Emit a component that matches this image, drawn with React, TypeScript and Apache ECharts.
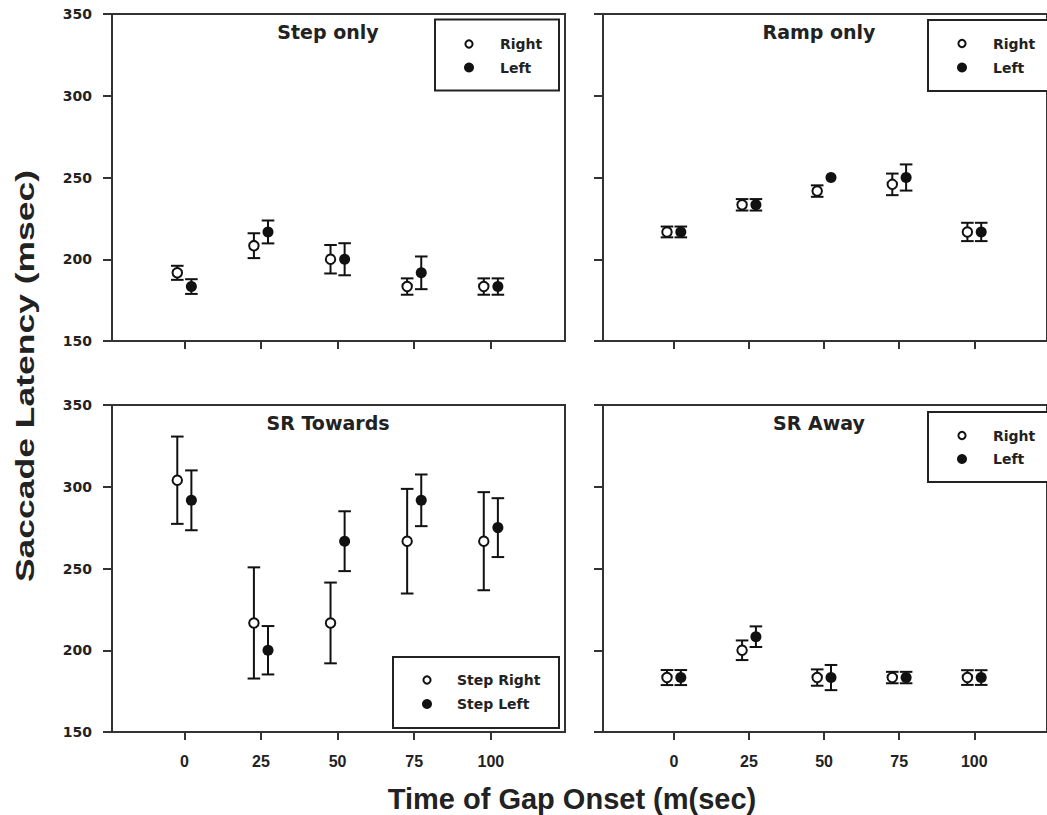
import React, { useEffect, useRef } from "react";
import * as echarts from "echarts";

// ---- data ----
const gapOnsets = [0, 25, 50, 75, 100];
const dodge = 2.3; // horizontal offset of Right (-) and Left (+) markers, in ms

const stepOnlyRight = [191.7, 208.3, 200, 183.3, 183.3];
const stepOnlyRightErr = [4.3, 7.6, 8.7, 5, 5];
const stepOnlyLeft = [183.3, 216.7, 200, 191.7, 183.3];
const stepOnlyLeftErr = [4.5, 7, 9.8, 10, 5];

const rampOnlyRight = [216.7, 233.3, 241.7, 245.8, 216.7];
const rampOnlyRightErr = [3.3, 3.5, 3.5, 6.6, 5.6];
const rampOnlyLeft = [216.7, 233.3, 250, 250, 216.7];
const rampOnlyLeftErr = [3.3, 3.5, 0, 8, 5.6];

const srTowardsRight = [304, 216.7, 216.7, 266.7, 266.7];
const srTowardsRightErr = [26.7, 34, 24.7, 32, 30];
const srTowardsLeft = [291.7, 200, 266.7, 291.7, 275];
const srTowardsLeftErr = [18.3, 14.8, 18.3, 15.8, 18];

const srAwayRight = [183.3, 200, 183.3, 183.3, 183.3];
const srAwayRightErr = [4.6, 6, 5, 3.5, 4.5];
const srAwayLeft = [183.3, 208.3, 183.3, 183.3, 183.3];
const srAwayLeftErr = [4.6, 6.3, 7.7, 3.5, 4.5];

const yTicks = [150, 200, 250, 300, 350];
const panelTitles = ["Step only", "Ramp only", "SR Towards", "SR Away"];
const legendNames = [
  ["Right", "Left"],
  ["Right", "Left"],
  ["Step Right", "Step Left"],
  ["Right", "Left"],
];
const yTitle = "Saccade Latency (msec)";
const xTitle = "Time of Gap Onset (m(sec)";

const panelData = [
  [stepOnlyRight, stepOnlyRightErr, stepOnlyLeft, stepOnlyLeftErr],
  [rampOnlyRight, rampOnlyRightErr, rampOnlyLeft, rampOnlyLeftErr],
  [srTowardsRight, srTowardsRightErr, srTowardsLeft, srTowardsLeftErr],
  [srAwayRight, srAwayRightErr, srAwayLeft, srAwayLeftErr],
];

// ---- layout ----
const gridBoxes = [
  { left: 112, top: 14 },
  { left: 603, top: 14 },
  { left: 112, top: 405 },
  { left: 603, top: 405 },
];
const GW = 453;
const GH = 327;
const legendBoxes = [
  { x: 435, y: 19.5, w: 124, h: 71, mx: 469, tx: 500, r1: 44, r2: 67.5 },
  { x: 928, y: 20, w: 124, h: 71, mx: 962, tx: 993, r1: 43.5, r2: 67.5 },
  { x: 393, y: 657, w: 166, h: 71, mx: 427, tx: 457, r1: 680, r2: 704 },
  { x: 928, y: 412, w: 124, h: 70, mx: 962, tx: 993, r1: 435.5, r2: 459 },
];
const titlePos = [
  { x: 328, y: 32 },
  { x: 819, y: 32 },
  { x: 328, y: 423 },
  { x: 819, y: 423 },
];

const INK = "#111";
const AXIS = "#333";
const TXT = "#222";

function errorBarRender(params: any, api: any) {
  const x = api.value(0);
  const y = api.value(1);
  const e = api.value(2);
  if (!e) return { type: "group", children: [] };
  const top = api.coord([x, y + e]);
  const bot = api.coord([x, y - e]);
  const w = 6.3;
  const style = { stroke: INK, lineWidth: 2 };
  return {
    type: "group",
    children: [
      { type: "line", shape: { x1: top[0], y1: top[1], x2: bot[0], y2: bot[1] }, style },
      { type: "line", shape: { x1: top[0] - w, y1: top[1], x2: top[0] + w, y2: top[1] }, style },
      { type: "line", shape: { x1: bot[0] - w, y1: bot[1], x2: bot[0] + w, y2: bot[1] }, style },
    ],
  };
}

export default function App() {
  const ref = useRef<HTMLDivElement>(null);
  useEffect(() => {
    if (!ref.current) return;
    const chart = echarts.init(ref.current, null, { renderer: "svg" });

    const grids = gridBoxes.map((g) => ({
      left: g.left,
      top: g.top,
      width: GW,
      height: GH,
      show: true,
      borderColor: AXIS,
      borderWidth: 2,
      backgroundColor: "transparent",
    }));

    const xAxes = gridBoxes.map((_, i) => ({
      gridIndex: i,
      type: "value",
      min: -23.6,
      max: 124.2,
      splitLine: { show: false },
      axisLine: { show: true, onZero: false, lineStyle: { color: AXIS, width: 2 } },
      axisTick: { show: true, customValues: gapOnsets, length: 8, lineStyle: { color: AXIS, width: 2 } },
      axisLabel: {
        show: i >= 2,
        customValues: gapOnsets,
        margin: 21,
        fontFamily: "Liberation Sans",
        fontWeight: "bold",
        fontSize: 16,
        color: TXT,
      },
    }));

    const yAxes = gridBoxes.map((_, i) => ({
      gridIndex: i,
      type: "value",
      min: yTicks[0],
      max: yTicks[yTicks.length - 1],
      interval: 50,
      splitLine: { show: false },
      axisLine: { show: true, onZero: false, lineStyle: { color: AXIS, width: 2 } },
      axisTick: { show: true, length: 9, lineStyle: { color: AXIS, width: 2 } },
      axisLabel: {
        show: i % 2 === 0,
        margin: 20,
        fontFamily: "DejaVu Sans",
        fontWeight: "bold",
        fontSize: 14,
        color: TXT,
      },
    }));

    const series: any[] = [];
    panelData.forEach(([rv, re, lv, le], i) => {
      const rData = gapOnsets.map((t, k) => [t - dodge, rv[k], re[k]]);
      const lData = gapOnsets.map((t, k) => [t + dodge, lv[k], le[k]]);
      series.push({
        type: "custom",
        xAxisIndex: i,
        yAxisIndex: i,
        renderItem: errorBarRender,
        data: rData,
        z: 2,
        silent: true,
      });
      series.push({
        type: "custom",
        xAxisIndex: i,
        yAxisIndex: i,
        renderItem: errorBarRender,
        data: lData,
        z: 2,
        silent: true,
      });
      series.push({
        type: "scatter",
        xAxisIndex: i,
        yAxisIndex: i,
        data: rData.map((d) => [d[0], d[1]]),
        symbol: "circle",
        symbolSize: 9.5,
        itemStyle: { color: "#fff", borderColor: INK, borderWidth: 2, opacity: 1 },
        z: 3,
        silent: true,
      });
      series.push({
        type: "scatter",
        xAxisIndex: i,
        yAxisIndex: i,
        data: lData.map((d) => [d[0], d[1]]),
        symbol: "circle",
        symbolSize: 11,
        itemStyle: { color: INK, opacity: 1 },
        z: 4,
        silent: true,
      });
    });

    const graphic: any[] = [];
    panelTitles.forEach((t, i) => {
      graphic.push({
        type: "text",
        x: titlePos[i].x,
        y: titlePos[i].y,
        z: 10,
        style: {
          text: t,
          fontSize: 19,
          fontFamily: "DejaVu Sans",
          fontWeight: "bold",
          fill: TXT,
          align: "center",
          verticalAlign: "middle",
        },
      });
    });
    legendBoxes.forEach((b, i) => {
      graphic.push({
        type: "rect",
        z: 10,
        shape: { x: b.x, y: b.y, width: b.w, height: b.h },
        style: { fill: "#fff", stroke: "#222", lineWidth: 2 },
      });
      graphic.push({
        type: "circle",
        z: 11,
        shape: { cx: b.mx, cy: b.r1, r: 3.6 },
        style: { fill: "#fff", stroke: INK, lineWidth: 2 },
      });
      graphic.push({
        type: "circle",
        z: 11,
        shape: { cx: b.mx, cy: b.r2, r: 5 },
        style: { fill: INK },
      });
      [b.r1, b.r2].forEach((ry, k) => {
        graphic.push({
          type: "text",
          z: 11,
          x: b.tx,
          y: ry,
          style: {
            text: legendNames[i][k],
            fontSize: 14,
            fontFamily: "DejaVu Sans",
            fontWeight: "bold",
            fill: TXT,
            align: "left",
            verticalAlign: "middle",
          },
        });
      });
    });
    graphic.push({
      type: "text",
      x: 25,
      y: 376,
      rotation: Math.PI / 2,
      scaleX: 1.42,
      z: 10,
      style: {
        text: yTitle,
        fontSize: 25,
        fontFamily: "Liberation Sans",
        fontWeight: "bold",
        fill: TXT,
        align: "center",
        verticalAlign: "middle",
      },
    });
    graphic.push({
      type: "text",
      x: 572,
      y: 799,
      z: 10,
      style: {
        text: xTitle,
        fontSize: 29,
        fontFamily: "Liberation Sans",
        fontWeight: "bold",
        fill: TXT,
        align: "center",
        verticalAlign: "middle",
      },
    });

    chart.setOption({
      animation: false,
      backgroundColor: "#fff",
      grid: grids,
      xAxis: xAxes,
      yAxis: yAxes,
      series,
      graphic,
    });
    return () => chart.dispose();
  }, []);
  return (
    <div
      ref={ref}
      style={{ position: "fixed", left: 0, top: 0, width: 1047, height: 815 }}
    />
  );
}
